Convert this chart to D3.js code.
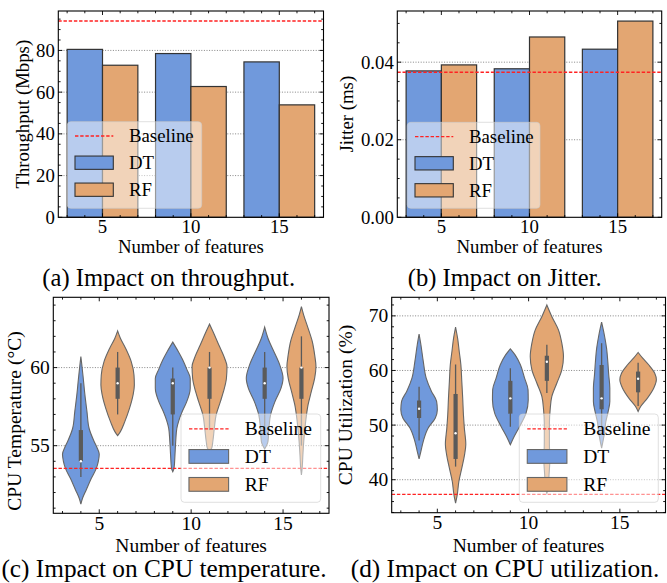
<!DOCTYPE html>
<html><head><meta charset="utf-8">
<script src="https://cdn.jsdelivr.net/npm/d3@7"></script>
<style>
body{margin:0;background:#fff}
svg{display:block}
text{font-family:"Liberation Serif","Times New Roman","DejaVu Serif",serif;fill:#000}
</style>
</head><body>
<svg id="chart" width="667" height="583"></svg>
<script>
// ---------------- DATA ----------------
const featureLabels = ["5", "10", "15"];
const featureCounts = [5, 10, 15];
const seriesNames = ["DT", "RF"];
const baselineLabel = "Baseline";

// (a) throughput (Mbps)
const throughputDT = [80.5, 78.5, 74.5];
const throughputRF = [72.9, 62.7, 53.9];
const throughputBaseline = 94.1;
const throughputTicks = [0, 20, 40, 60, 80];

// (b) jitter (ms)
const jitterDT = [0.03775, 0.0383, 0.04335];
const jitterRF = [0.0393, 0.0465, 0.0506];
const jitterBaseline = 0.0374;
const jitterTicks = [0, 0.02, 0.04];

// (c) CPU temperature: violin outlines [value, relative density] and box stats [low, q1, median, q3, high]
const tempBaseline = 53.55;
const tempTicks = [55, 60];
const tempDTShapes = [
  [[51.26,0],[51.63,0.09],[52.16,0.29],[52.91,0.57],[53.55,0.84],[54.0,0.95],[54.45,1.0],[54.9,0.87],[55.3,0.71],[56.1,0.45],[57.2,0.33],[58.25,0.22],[59.32,0.13],[60.2,0.05],[60.7,0]],
  [[53.33,0],[53.56,0.07],[54.42,0.12],[55.27,0.16],[56.1,0.22],[56.6,0.33],[57.2,0.52],[57.82,0.76],[58.68,0.95],[59.3,0.95],[59.9,0.76],[60.5,0.54],[61.03,0.30],[61.63,0]],
  [[54.79,0],[55.27,0.18],[56.1,0.23],[56.97,0.32],[57.82,0.56],[58.68,0.89],[59.32,1.0],[60.17,0.82],[61.03,0.5],[61.88,0.18],[62.59,0]]
];
const tempRFShapes = [
  [[55.64,0],[55.9,0.15],[56.54,0.39],[57.4,0.65],[58.25,0.84],[58.89,0.91],[59.53,0.89],[60.38,0.74],[61.24,0.43],[61.88,0.15],[62.35,0]],
  [[54.65,0],[54.84,0.12],[55.27,0.18],[56.1,0.26],[56.97,0.36],[57.82,0.59],[58.47,0.76],[59.32,0.92],[60.07,0.95],[60.6,0.82],[61.46,0.5],[62.32,0.18],[62.78,0]],
  [[53.12,0],[53.56,0.04],[54.42,0.08],[55.48,0.14],[56.54,0.23],[57.61,0.36],[58.47,0.54],[59.32,0.72],[60.07,0.79],[60.81,0.72],[61.67,0.59],[62.53,0.36],[63.38,0.12],[63.91,0]]
];
const tempDTBoxes = [[53.0,54.0,54.0,56.0,59.0],[55.0,57.0,59.0,59.3,60.0],[56.0,58.0,59.0,60.0,61.0]];
const tempRFBoxes = [[57.0,58.0,59.0,60.0,61.0],[56.0,58.0,60.0,60.0,61.0],[55.0,58.0,60.0,60.0,62.0]];

// (d) CPU utilization (%)
const cpuBaseline = 37.3;
const cpuTicks = [40, 50, 60, 70];
const cpuDTShapes = [
  [[43.81,0],[45.2,0.1],[47.03,0.23],[49.47,0.5],[51.3,0.89],[52.82,1.0],[54.35,0.96],[56.17,0.68],[58.61,0.39],[61.66,0.23],[64.71,0.1],[66.65,0]],
  [[46.4,0],[47.9,0.21],[49.7,0.5],[52.2,0.86],[54.6,0.98],[56.45,0.97],[58.6,0.78],[61.04,0.55],[62.86,0.26],[63.96,0]],
  [[45.8,0],[48.2,0.14],[50.6,0.23],[52.5,0.36],[54.3,0.45],[56.8,0.45],[59.2,0.39],[61.6,0.34],[64.1,0.27],[66.5,0.15],[68.85,0]]
];
const cpuRFShapes = [
  [[35.7,0],[37.23,0.09],[39.67,0.18],[42.12,0.34],[44.56,0.49],[46.5,0.56],[49.44,0.48],[51.88,0.43],[54.93,0.39],[57.99,0.34],[61.04,0.29],[63.48,0.2],[65.92,0.11],[67.93,0]],
  [[37.5,0],[38.5,0.08],[40.9,0.12],[43.3,0.16],[47.0,0.14],[50.3,0.14],[52.8,0.18],[55.2,0.27],[57.7,0.55],[60.1,0.82],[62.55,0.91],[65.0,0.82],[67.4,0.64],[69.9,0.27],[72.0,0]],
  [[52.5,0],[53.4,0.14],[54.9,0.5],[56.8,0.86],[58.3,1.0],[59.5,0.91],[61.0,0.59],[62.25,0.25],[63.3,0]]
];
const cpuDTBoxes = [[47.2,51.3,53.0,54.5,57.0],[49.7,52.1,54.9,58.1,60.4],[49.4,52.9,54.9,61.0,65.0]];
const cpuRFBoxes = [[42.4,43.8,48.5,55.7,61.1],[55.9,58.1,61.6,62.7,64.7],[53.5,56.0,58.5,59.8,61.4]];

// ---------------- STYLE / LAYOUT ----------------
const FONT = "'Liberation Serif','Times New Roman','DejaVu Serif',serif";
const BLUE = "#7099DC", ORANGE = "#E3A672";
const svg = d3.select("#chart");

const PA = {x0:58.3, x1:323.5, y0:11, y1:217.3, fs:18.8, cap:24.6};
const PB = {x0:397.3, x1:661.7, y0:11, y1:217.3, fs:18.8, cap:24.6};
const PC = {x0:53.3, x1:329, y0:297.3, y1:513.3, fs:19.5, cap:25.3};
const PD = {x0:391.7, x1:665.5, y0:297.3, y1:512.7, fs:19.5, cap:25.3};

function txt(g) { return g.append("text").attr("font-family", FONT); }

function grid(g, P, y, ticks) {
  ticks.forEach(v => {
    const yy = y(v);
    if (Math.abs(yy - P.y1) < 1) return;
    g.append("line").attr("x1", P.x0).attr("x2", P.x1).attr("y1", yy).attr("y2", yy)
      .attr("stroke", "#777").attr("stroke-width", 0.9).attr("stroke-dasharray", "1,1.6");
  });
}

function axes(g, P, x, y, xMaj, xMin, xLab, yMaj, yMin, yFmt) {
  const tk = (x1,y1,x2,y2) => g.append("line").attr("x1",x1).attr("y1",y1).attr("x2",x2).attr("y2",y2)
      .attr("stroke","#000").attr("stroke-width",0.9);
  const ML = 4, mL = 2.3;
  xMaj.forEach(v => { const xx = x(v); tk(xx,P.y1,xx,P.y1-ML); tk(xx,P.y0,xx,P.y0+ML); });
  xMin.forEach(v => { const xx = x(v); tk(xx,P.y1,xx,P.y1-mL); tk(xx,P.y0,xx,P.y0+mL); });
  yMaj.forEach(v => { const yy = y(v); tk(P.x0,yy,P.x0+ML,yy); tk(P.x1,yy,P.x1-ML,yy); });
  yMin.forEach(v => { const yy = y(v); tk(P.x0,yy,P.x0+mL,yy); tk(P.x1,yy,P.x1-mL,yy); });
  g.append("rect").attr("x",P.x0).attr("y",P.y0).attr("width",P.x1-P.x0).attr("height",P.y1-P.y0)
    .attr("fill","none").attr("stroke","#000").attr("stroke-width",1.1);
  xMaj.forEach((v,i) => txt(g).attr("x", x(v)).attr("y", P.y1 + 0.86*P.fs)
    .attr("text-anchor","middle").attr("font-size", P.fs).text(xLab[i]));
  yMaj.forEach(v => txt(g).attr("x", P.x0 - 3.5).attr("y", y(v) + 0.34*P.fs)
    .attr("text-anchor","end").attr("font-size", P.fs).text(yFmt(v)));
}

function labels(g, P, ylab, yx, yc, xlabY, cap, capX, capY) {
  txt(g).attr("x", (P.x0+P.x1)/2).attr("y", xlabY).attr("text-anchor","middle")
    .attr("font-size", P.fs).text("Number of features");
  txt(g).attr("transform", `translate(${yx},${yc}) rotate(-90)`).attr("text-anchor","middle")
    .attr("font-size", P.fs).text(ylab);
  txt(g).attr("x", capX).attr("y", capY).attr("text-anchor","middle")
    .attr("font-size", P.cap).text(cap);
}

function baseline(g, P, y, v) {
  g.append("line").attr("x1",P.x0).attr("x2",P.x1).attr("y1",y(v)).attr("y2",y(v))
    .attr("stroke","#f22").attr("stroke-width",1.3).attr("stroke-dasharray","3.4,1.8");
}

function legend(g, bx, by, bw, bh, s, fs, edge) {
  g.append("rect").attr("x",bx).attr("y",by).attr("width",bw).attr("height",bh).attr("rx",3.5)
    .attr("fill","#fff").attr("fill-opacity",0.5).attr("stroke","#ccc").attr("stroke-opacity",0.6);
  const rows = [14.3*s, 41*s, 68*s].map(d => by + d);
  const hx0 = bx + 7.7*s, hx1 = bx + 46*s, tx = bx + 61.7*s, ph = 13.3*s;
  g.append("line").attr("x1",hx0).attr("x2",hx1).attr("y1",rows[0]).attr("y2",rows[0])
    .attr("stroke","#f22").attr("stroke-width",1.3).attr("stroke-dasharray","3.4,1.8");
  [BLUE, ORANGE].forEach((c,i) => g.append("rect").attr("x",hx0).attr("y",rows[i+1]-ph/2)
    .attr("width",hx1-hx0).attr("height",ph).attr("fill",c).attr("stroke",edge).attr("stroke-width",1.1));
  [baselineLabel].concat(seriesNames).forEach((t,i) => txt(g).attr("x",tx)
    .attr("y", rows[i] + 0.335*fs).attr("font-size", fs).text(t));
}

// ---------------- BAR PANELS ----------------
function barPanel(P, dt, rf, base, yMax, yTicks, yMinorStep, yFmt, ylab, ylabX, cap, capX, leg) {
  const g = svg.append("g");
  const x = d3.scaleLinear().domain([2.5, 17.5]).range([P.x0, P.x1]);
  const y = d3.scaleLinear().domain([0, yMax]).range([P.y1, P.y0]);
  grid(g, P, y, yTicks);
  featureCounts.forEach((f,i) => {
    [[dt[i], f-2, BLUE], [rf[i], f, ORANGE]].forEach(([v, x0, c]) => {
      g.append("rect").attr("x", x(x0)).attr("width", x(x0+2)-x(x0)).attr("y", y(v))
        .attr("height", y(0)-y(v)).attr("fill", c).attr("stroke","#333").attr("stroke-width",1.2);
    });
  });
  baseline(g, P, y, base);
  const xMin = d3.range(3, 18).filter(v => v % 5 !== 0);
  const yMin = d3.range(0, yMax, yMinorStep).map(v => +v.toFixed(6)).filter(v => !yTicks.some(t => Math.abs(t-v) < 1e-9));
  axes(g, P, x, y, featureCounts, xMin, featureLabels, yTicks, yMin, yFmt);
  labels(g, P, ylab, ylabX, (P.y0+P.y1)/2, 253.3, cap, capX, 286);
  legend(g, leg[0], leg[1], leg[2], leg[3], 1, 18.8, "#333");
}

barPanel(PA, throughputDT, throughputRF, throughputBaseline, 98.9, throughputTicks, 5,
  d => String(d), "Throughput (Mbps)", 29, "(a) Impact on throughput.", 168.7, [67.3,121.7,134.4,86.6]);
barPanel(PB, jitterDT, jitterRF, jitterBaseline, 0.0532, jitterTicks, 0.005,
  d3.format(".2f"), "Jitter (ms)", 353, "(b) Impact on Jitter.", 504.7, [407.3,122.3,132.7,86]);

// ---------------- VIOLIN PANELS ----------------
function violin(g, cx, hw, shape, box, color, y) {
  const area = d3.area().curve(d3.curveMonotoneY)
    .y(d => y(d[0])).x0(d => cx - d[1]*hw).x1(d => cx + d[1]*hw);
  g.append("path").attr("d", area(shape)).attr("fill", color)
    .attr("stroke", "#666").attr("stroke-width", 1.1);
  g.append("line").attr("x1",cx).attr("x2",cx).attr("y1",y(box[0])).attr("y2",y(box[4]))
    .attr("stroke","#5a5a5a").attr("stroke-width",1.3);
  g.append("line").attr("x1",cx).attr("x2",cx).attr("y1",y(box[1])).attr("y2",y(box[3]))
    .attr("stroke","#5a5a5a").attr("stroke-width",4.2);
  g.append("circle").attr("cx",cx).attr("cy",y(box[2])).attr("r",1.2).attr("fill","#fff");
}

function violinPanel(P, dtS, rfS, dtB, rfB, base, yDom, yTicks, yMinorStep, ylab, ylabX, ylabC, cap, capX, leg) {
  const g = svg.append("g");
  const x = d3.scaleLinear().domain([-0.5, 2.5]).range([P.x0, P.x1]);
  const y = d3.scaleLinear().domain(yDom).range([P.y1, P.y0]);
  grid(g, P, y, yTicks);
  const hw = x(0.2) - x(0);
  featureCounts.forEach((f,i) => {
    violin(g, x(i-0.2), hw, dtS[i], dtB[i], BLUE, y);
    violin(g, x(i+0.2), hw, rfS[i], rfB[i], ORANGE, y);
  });
  baseline(g, P, y, base);
  const xMin = d3.range(-2, 13).map(k => +(k*0.2).toFixed(2)).filter(v => Math.abs(v - Math.round(v)) > 1e-6);
  const yMin = d3.range(Math.ceil(yDom[0]/yMinorStep)*yMinorStep, yDom[1], yMinorStep)
    .filter(v => !yTicks.includes(v));
  axes(g, P, x, y, [0,1,2], xMin, featureLabels, yTicks, yMin, d => String(d));
  labels(g, P, ylab, ylabX, ylabC, 551.7, cap, capX, 577.3);
  legend(g, leg[0], leg[1], leg[2], leg[3], 1.035, 19.5, "#666");
}

violinPanel(PC, tempDTShapes, tempRFShapes, tempDTBoxes, tempRFBoxes, tempBaseline, [50.67, 64.5], tempTicks, 1,
  "CPU Temperature (°C)", 20.8, 421, "(c) Impact on CPU temperature.", 164, [181,414,139.7,88.3]);
violinPanel(PD, cpuDTShapes, cpuRFShapes, cpuDTBoxes, cpuRFBoxes, cpuBaseline, [33.96, 73.4], cpuTicks, 2,
  "CPU Utilization (%)", 351.5, 405, "(d) Impact on CPU utilization.", 505, [519.3,414,139,88.3]);
</script>
</body></html>
